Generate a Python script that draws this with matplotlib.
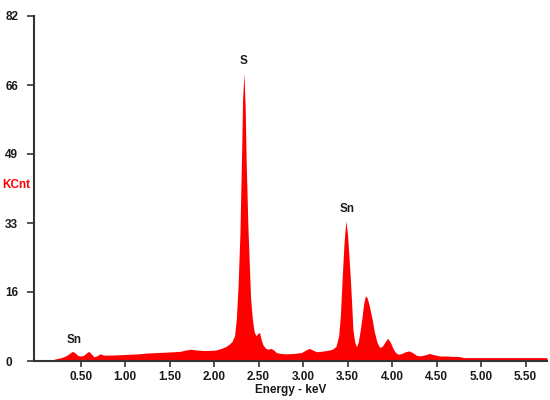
import matplotlib
matplotlib.use("Agg")
import matplotlib.pyplot as plt
import numpy as np

# spectrum (keV, kilo-counts)
energy = [0.00, 0.12, 0.16, 0.20, 0.24, 0.28, 0.31, 0.35, 0.38, 0.41, 0.44, 0.47,
          0.50, 0.53, 0.56, 0.59, 0.62, 0.65, 0.68, 0.72, 0.76, 0.85, 0.95, 1.05,
          1.15, 1.25, 1.35, 1.45, 1.55, 1.62, 1.68, 1.74, 1.80, 1.88, 1.95, 2.02,
          2.08, 2.13, 2.17, 2.20, 2.23, 2.25, 2.27, 2.29, 2.31, 2.32, 2.335, 2.35,
          2.36, 2.38, 2.41, 2.43, 2.45, 2.47, 2.49, 2.51, 2.53, 2.55, 2.58, 2.61,
          2.64, 2.67, 2.70, 2.75, 2.80, 2.90, 2.98, 3.03, 3.07, 3.11, 3.15, 3.20,
          3.27, 3.33, 3.37, 3.40, 3.42, 3.44, 3.46, 3.48, 3.50, 3.53, 3.545, 3.56,
          3.58, 3.60, 3.62, 3.64, 3.66, 3.68, 3.70, 3.72, 3.74, 3.76, 3.78, 3.80,
          3.83, 3.86, 3.89, 3.92, 3.95, 3.98, 4.01, 4.04, 4.07, 4.11, 4.15, 4.19,
          4.23, 4.27, 4.31, 4.36, 4.42, 4.47, 4.53, 4.60, 4.67, 4.73, 4.77, 4.80,
          5.00, 5.74]
counts = [0.0, 0.0, 0.2, 0.4, 0.6, 0.8, 1.0, 1.4, 1.9, 2.3, 1.9, 1.3,
          1.2, 1.3, 1.8, 2.3, 1.7, 1.0, 1.2, 1.7, 1.4, 1.4, 1.5, 1.6,
          1.7, 1.9, 2.0, 2.1, 2.2, 2.3, 2.6, 2.8, 2.6, 2.5, 2.5, 2.6,
          3.0, 3.4, 4.0, 4.6, 6.0, 10.0, 18.0, 30.0, 50.0, 62.0, 68.5, 60.0,
          48.0, 32.0, 15.0, 10.0, 7.0, 6.0, 6.5, 6.8, 5.0, 3.8, 3.0, 2.8,
          3.0, 2.6, 2.0, 1.8, 1.7, 1.8, 2.0, 2.6, 3.0, 2.6, 2.2, 2.3,
          2.5, 2.8, 3.5, 6.0, 11.0, 20.0, 28.0, 33.3, 30.0, 20.0, 14.0, 7.5,
          4.5, 3.4, 4.5, 7.0, 10.0, 13.5, 15.5, 15.0, 13.5, 11.5, 9.5, 7.0,
          4.5, 3.2, 3.5, 4.5, 5.4, 4.5, 3.0, 2.0, 1.6, 1.8, 2.2, 2.4,
          2.0, 1.4, 1.2, 1.4, 1.8, 1.5, 1.2, 1.2, 1.1, 1.1, 1.0, 0.8,
          0.8, 0.8]

peak_labels = ["Sn", "S", "Sn"]
peak_energy = [0.43, 2.335, 3.49]
peak_height = [2.3, 68.5, 33.3]

xticks = [0.5, 1.0, 1.5, 2.0, 2.5, 3.0, 3.5, 4.0, 4.5, 5.0, 5.5]
ymax = 82
yticks = [0, 16.4, 32.8, 49.2, 65.6, 82]
ytick_labels = ["0", "16", "33", "49", "66", "82"]

plt.rcParams['font.family'] = ['Liberation Sans', 'DejaVu Sans']

fig = plt.figure(figsize=(5.5, 4), dpi=100)
ax = fig.add_axes([0.0624, 0.0975, 0.932, 0.8625])

ax.fill_between(energy, counts, 0, color='#ff0000', linewidth=0)

for lab, e, h in zip(peak_labels, peak_energy, peak_height):
    ax.annotate(lab, (e, h), xytext=(0, 4), textcoords='offset points',
                ha='center', va='bottom', fontsize=8.5, fontweight='bold',
                color='#1a1a1a')

ax.set_xlim(-0.02, 5.74)
ax.set_ylim(0, ymax)
ax.set_xticks(xticks)
ax.set_xticklabels(["%.2f" % t for t in xticks])
ax.set_yticks(yticks)
ax.set_yticklabels(ytick_labels)

for s in ['top', 'right']:
    ax.spines[s].set_visible(False)
for s in ['left', 'bottom']:
    ax.spines[s].set_color('#333333')
    ax.spines[s].set_linewidth(1.5)

ax.tick_params(axis='y', length=5, width=1.2, color='#333333', pad=16,
               labelsize=8.5)
ax.tick_params(axis='x', length=4, width=1.2, color='#333333', pad=3,
               labelsize=8.5)
for t in ax.get_yticklabels():
    t.set_horizontalalignment('left')
for t in ax.get_xticklabels() + ax.get_yticklabels():
    t.set_fontweight('bold')
    t.set_color('#1a1a1a')

ax.set_xlabel('Energy - keV', fontsize=8.5, fontweight='bold', color='#1a1a1a',
              labelpad=1)
fig.text(0.004, 0.537, 'KCnt', color='#ff0000', fontsize=8.5, fontweight='bold',
         ha='left', va='center')

fig.savefig('out.png', dpi=100)
